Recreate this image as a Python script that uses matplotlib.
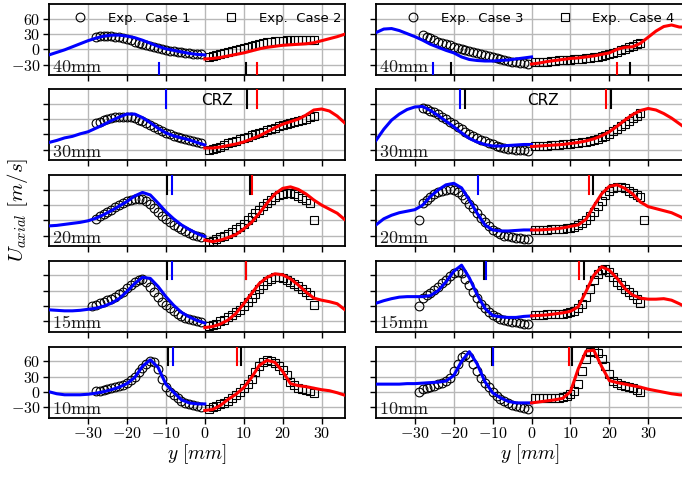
import numpy as np
import matplotlib
matplotlib.use('Agg')
import matplotlib.pyplot as plt
from matplotlib.ticker import FuncFormatter

plt.rcParams['mathtext.fontset'] = 'cm'
plt.rcParams['font.family'] = 'DejaVu Sans'

# measurement / simulation positions [mm]
exp_x_neg = [-29, -28, -27, -26, -25, -24, -23, -22, -21, -20, -19, -18, -17, -16, -15,
             -14, -13, -12, -11, -10, -9, -8, -7, -6, -5, -4, -3, -2, -1]
exp_x_pos = [1, 2, 3, 4, 5, 6, 7, 8, 9, 10, 11, 12, 13, 14, 15,
             16, 17, 18, 19, 20, 21, 22, 23, 24, 25, 26, 27, 28, 29]
sim_x_neg = [-40, -38, -36, -34, -32, -30, -28, -26, -24, -22, -20,
             -18, -16, -14, -12, -10, -8, -6, -4, -2, 0]
sim_x_pos = [0, 2, 4, 6, 8, 10, 12, 14, 16, 18, 20,
             22, 24, 26, 28, 30, 32, 34, 36, 38, 40]

heights = ['40mm', '30mm', '20mm', '15mm', '10mm']

# ---- left column: Exp. Case 1 (circles) / Exp. Case 2 (squares) ----
circ_40 = [25, 26, 26, 26, 26, 25, 24, 22, 20, 18, 15, 13, 10, 8, 6, 4, 2, 0, -1, -3, -4, -5, -6, -7, -8, -9, -9, -10]
sq_40 = [-15, -14, -12, -10, -8, -6, -4, -2, 0, 3, 5, 7, 9, 11, 13, 14, 15, 16, 17, 17, 18, 18, 18, 18, 18, 18, 18, 18]
blue_40 = [-11, -6, -1, 5, 11, 17, 22, 26, 28, 28, 26, 23, 18, 12, 6, 1, -2, -5, -8, -10, -11]
red_40 = [-19, -18, -16, -13, -10, -7, -3, 1, 4, 6, 8, 9, 10, 11, 13, 17, 21, 25, 30, 34, 38]

circ_30 = [22, 25, 28, 30, 32, 34, 35, 35, 35, 34, 32, 29, 26, 22, 18, 14, 10, 6, 3, 0, -3, -6, -8, -10, -12, -14, -16, -18]
sq_30 = [-30, -29, -27, -24, -21, -18, -16, -13, -10, -8, -5, -2, 1, 3, 5, 8, 11, 13, 16, 18, 20, 22, 24, 26, 28, 31, 34, 36]
blue_30 = [-16, -12, -7, -4, 1, 5, 12, 19, 27, 34, 40, 40, 33, 23, 12, 3, -3, -7, -11, -16, -21]
red_30 = [-27, -27, -25, -22, -19, -15, -9, -3, 5, 13, 20, 25, 30, 38, 48, 50, 46, 36, 22, 8, -5]

circ_20 = [3, 8, 12, 16, 20, 26, 31, 35, 38, 40, 42, 43, 42, 38, 32, 25, 17, 9, 2, -4, -10, -14, -18, -22, -25, -28, -30, -32]
sq_20 = [-42, -40, -37, -33, -30, -27, -23, -18, -13, -7, 0, 7, 14, 21, 28, 35, 40, 45, 49, 52, 53, 53, 51, 48, 44, 40, 35, 1]
blue_20 = [-11, -10, -8, -6, -4, -1, 4, 11, 19, 28, 37, 48, 55, 50, 34, 17, 3, -9, -18, -26, -32]
red_20 = [-39, -42, -39, -34, -28, -17, -4, 14, 34, 52, 63, 66, 61, 52, 40, 30, 22, 14, 1, -10, -20]

circ_15 = [0, 2, 5, 8, 11, 14, 18, 23, 28, 35, 41, 47, 51, 53, 47, 37, 28, 18, 8, 1, -5, -11, -17, -21, -24, -26, -28, -30, -32]
sq_15 = [-40, -38, -35, -31, -28, -23, -18, -13, -8, 0, 8, 16, 24, 33, 41, 48, 53, 56, 57, 55, 51, 47, 42, 38, 33, 28, 21, 1]
blue_15 = [-8, -9, -10, -10, -9, -7, -5, -1, 5, 14, 28, 44, 56, 54, 38, 18, 1, -13, -22, -29, -34]
red_15 = [-43, -41, -36, -28, -15, 4, 24, 44, 56, 63, 61, 53, 41, 27, 15, 11, 8, 4, -8, -18, -28]

circ_10 = [1, 2, 4, 6, 7, 10, 12, 14, 18, 24, 30, 38, 46, 54, 60, 58, 45, 25, 10, 0, -7, -13, -18, -22, -25, -27, -29, -31]
sq_10 = [-34, -31, -28, -25, -22, -18, -13, -7, 0, 8, 16, 26, 38, 50, 58, 62, 60, 56, 50, 42, 33, 20, 13, 8, 5, 3, 1, -2]
blue_10 = [0, -4, -6, -6, -6, -5, -3, 0, 4, 9, 16, 28, 50, 63, 48, 15, -1, -16, -22, -24, -24]
red_10 = [-37, -35, -27, -15, -5, 8, 28, 52, 62, 58, 40, 16, 12, 10, 7, 4, 2, -2, -7, -12, -17]

# ---- right column: Exp. Case 3 (circles) / Exp. Case 4 (squares) ----
circ_40r = [28, 25, 22, 19, 15, 13, 10, 8, 5, 3, 1, -1, -4, -6, -8, -10, -12, -14, -16, -18, -20, -21, -23, -24, -25, -26, -27, -28]
sq_40r = [-25, -25, -24, -24, -23, -23, -22, -22, -21, -21, -20, -19, -19, -18, -17, -16, -15, -14, -12, -10, -8, -5, -2, 1, 4, 7, 10, 12]
blue_40r = [33, 40, 41, 37, 31, 25, 18, 10, 4, -2, -7, -15, -20, -22, -23, -23, -22, -21, -19, -17, -15]
red_40r = [-29, -27, -24, -22, -20, -18, -17, -15, -13, -10, -7, 0, 4, 5, 12, 24, 36, 45, 48, 44, 44]

circ_30r = [52, 50, 47, 44, 40, 35, 30, 25, 20, 15, 10, 5, 1, -3, -7, -11, -14, -17, -20, -22, -24, -26, -28, -29, -30, -31, -31, -32]
sq_30r = [-22, -22, -22, -22, -21, -21, -21, -20, -20, -19, -18, -17, -16, -15, -13, -11, -9, -6, -3, 1, 6, 11, 16, 21, 26, 32, 37, 42]
blue_30r = [-12, 10, 28, 40, 49, 54, 55, 47, 37, 26, 15, 3, -8, -15, -20, -23, -23, -22, -21, -20, -20]
red_30r = [-24, -23, -22, -21, -20, -18, -16, -13, -9, -3, 5, 16, 28, 39, 47, 51, 48, 41, 32, 21, 10]

circ_20r = [0, 35, 41, 46, 51, 55, 58, 60, 61, 60, 56, 50, 42, 33, 24, 14, 5, -4, -12, -19, -24, -27, -30, -31, -33, -34, -35, -36, -36]
sq_20r = [-19, -19, -19, -19, -18, -18, -17, -17, -16, -15, -13, -10, -6, 0, 8, 17, 28, 39, 49, 57, 63, 66, 66, 63, 58, 53, 49, 45, 1]
blue_20r = [-9, 3, 10, 15, 18, 21, 30, 47, 60, 70, 73, 64, 40, 14, -9, -19, -21, -21, -20, -19, -19]
red_20r = [-19, -19, -18, -17, -15, -12, -9, 2, 28, 52, 67, 70, 63, 52, 36, 27, 23, 19, 15, 8, 0]

circ_15r = [0, 16, 21, 26, 32, 37, 44, 51, 58, 64, 67, 64, 52, 41, 28, 15, 4, -5, -12, -18, -22, -26, -28, -30, -32, -33, -34, -35, -35]
sq_15r = [-18, -18, -18, -17, -17, -17, -16, -16, -15, -13, -10, -5, 4, 18, 34, 51, 63, 70, 72, 67, 57, 47, 40, 34, 28, 21, 14, 5]
blue_15r = [5, 10, 14, 17, 18, 18, 18, 20, 30, 47, 68, 80, 55, 22, -5, -19, -22, -23, -23, -21, -20]
red_15r = [-20, -19, -18, -16, -14, -11, -2, 28, 60, 77, 70, 54, 34, 21, 15, 13, 13, 14, 11, 4, -4]

circ_10r = [0, 5, 7, 10, 12, 15, 18, 21, 28, 40, 55, 68, 72, 68, 55, 40, 28, 18, 10, 0, -8, -14, -19, -23, -26, -29, -31, -33, -34]
sq_10r = [-13, -13, -13, -13, -13, -12, -12, -11, -8, -4, 2, 15, 40, 65, 78, 80, 76, 65, 50, 35, 22, 17, 14, 12, 10, 7, 4, 0]
blue_10r = [15, 15, 15, 15, 16, 16, 17, 18, 19, 21, 32, 60, 79, 55, 20, -2, -12, -19, -22, -22, -22]
red_10r = [-22, -20, -18, -16, -13, 0, 45, 80, 82, 50, 22, 18, 15, 12, 9, 5, 2, -1, -4, -6, -7]

# short vertical markers (position, colour) per panel
marks_l = [[(-11.8, 'b'), (10.7, 'k'), (13.5, 'r')],
           [(-10.0, 'b'), (10.9, 'k'), (13.4, 'r')],
           [(-9.8, 'k'), (-8.5, 'b'), (11.5, 'k'), (12.0, 'r')],
           [(-9.7, 'k'), (-8.5, 'b'), (10.5, 'k'), (10.5, 'r')],
           [(-9.5, 'k'), (-8.2, 'b'), (8.2, 'r'), (9.2, 'k')]]
marks_r = [[(-25.3, 'b'), (-20.6, 'k'), (21.9, 'r'), (25.3, 'k')],
           [(-18.3, 'b'), (-17.1, 'k'), (19.2, 'r'), (20.3, 'k')],
           [(-13.8, 'b'), (14.7, 'r'), (15.9, 'k')],
           [(-12.2, 'k'), (-11.8, 'b'), (12.3, 'r'), (13.4, 'k')],
           [(-10.2, 'k'), (-9.8, 'b'), (9.5, 'r'), (10.5, 'k')]]

left_data = [(circ_40, sq_40, blue_40, red_40), (circ_30, sq_30, blue_30, red_30),
             (circ_20, sq_20, blue_20, red_20), (circ_15, sq_15, blue_15, red_15),
             (circ_10, sq_10, blue_10, red_10)]
right_data = [(circ_40r, sq_40r, blue_40r, red_40r), (circ_30r, sq_30r, blue_30r, red_30r),
              (circ_20r, sq_20r, blue_20r, red_20r), (circ_15r, sq_15r, blue_15r, red_15r),
              (circ_10r, sq_10r, blue_10r, red_10r)]

col_colors = {'b': '#0000ff', 'r': '#ff0000', 'k': 'black'}

fig = plt.figure(figsize=(6.82, 4.83), dpi=100)
bottoms = [0.8443, 0.6683, 0.4903, 0.3134, 0.1354]
h = 0.147
tick_fmt = FuncFormatter(lambda v, p: '$%g$' % v)


def draw_panel(ax, data, marks, row, labels):
    circ, sq, blue, red = data
    ax.plot(exp_x_neg[-len(circ):], circ, 'o', ms=6.3, mfc='none', mec='black', mew=0.8,
            label=labels[0], zorder=3)
    ax.plot(exp_x_pos[:len(sq)], sq, 's', ms=6.0, mfc='none', mec='black', mew=0.8,
            label=labels[1], zorder=3)
    ax.plot(sim_x_neg, blue, color='#0000ff', lw=2.2, zorder=4)
    ax.plot(sim_x_pos, red, color='#ff0000', lw=2.2, zorder=4)
    for xm, c in marks:
        if row == 0:
            ax.axvline(xm, ymin=0.0, ymax=0.17, color=col_colors[c], lw=1.5, zorder=5)
        else:
            ax.axvline(xm, ymin=0.74, ymax=1.0, color=col_colors[c], lw=1.5, zorder=5)
    ax.set_ylim(-51, 89)
    ax.set_yticks([-30, 0, 30, 60])
    ax.set_xticks([-30, -20, -10, 0, 10, 20, 30])
    ax.grid(True, color='#b8b8b8', lw=1.0)
    ax.set_axisbelow(True)
    for s in ax.spines.values():
        s.set_linewidth(1.3)
    ax.tick_params(direction='out', length=4, width=1.0, labelsize=11.5, pad=2)
    ax.xaxis.set_major_formatter(tick_fmt)
    ax.yaxis.set_major_formatter(tick_fmt)
    ax.text(0.01, -0.01, r'$\mathrm{' + heights[row] + '}$', transform=ax.transAxes,
            fontsize=13, ha='left', va='bottom', color='#1a1a1a', zorder=6)
    if row == 1:
        ax.text(3, 66, 'CRZ', fontsize=11, ha='center', va='center')
    if row == 0:
        ax.legend(loc='upper center', bbox_to_anchor=(0.535, 1.02), ncol=2, frameon=False,
                  fontsize=9.5, handlelength=1.0, handletextpad=1.6, columnspacing=2.6,
                  borderaxespad=0.3)
    if row < 4:
        ax.tick_params(labelbottom=False)
    else:
        ax.set_xlabel(r'$y\ [mm]$', fontsize=14, labelpad=1)


for r in range(5):
    axl = fig.add_axes([49 / 682, bottoms[r], 296 / 682, h])
    draw_panel(axl, left_data[r], marks_l[r], r, ['Exp.  Case 1', 'Exp.  Case 2'])
    axl.set_xlim(-40, 36)
    if r not in (0, 4):
        axl.tick_params(labelleft=False)

    axr = fig.add_axes([376 / 682, bottoms[r], 308 / 682, h])
    draw_panel(axr, right_data[r], marks_r[r], r, ['Exp.  Case 3', 'Exp.  Case 4'])
    axr.set_xlim(-40, 39.2)
    axr.tick_params(labelleft=False)

fig.text(0.026, 0.565, r'$U_{axial}\ [m/s]$', rotation=90, fontsize=15,
         ha='center', va='center')

fig.savefig('out.png', dpi=100)
